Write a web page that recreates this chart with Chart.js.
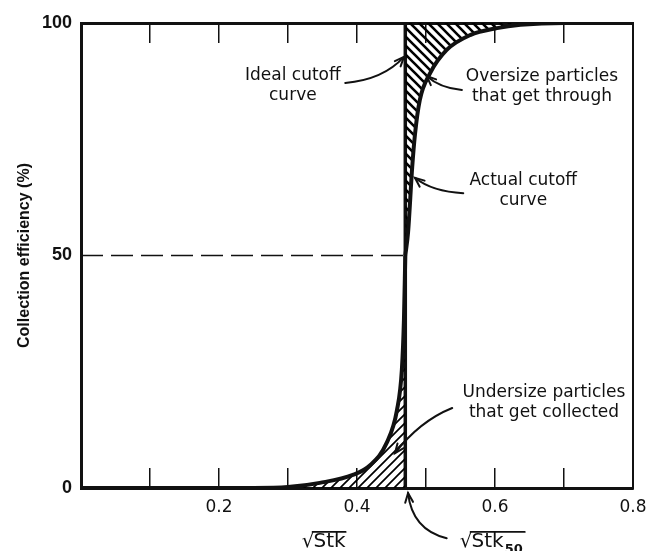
<!DOCTYPE html>
<html>
<head>
<meta charset="utf-8">
<script src="https://cdn.jsdelivr.net/npm/chart.js@4.4.1/dist/chart.umd.min.js"></script>
<style>
  html, body { margin: 0; padding: 0; background: #fff; }
</style>
</head>
<body>
<canvas id="chart" width="651" height="551"></canvas>
<script>
// actual cutoff curve
const actualX = [0.00, 0.25, 0.30, 0.346, 0.394, 0.419, 0.443, 0.458, 0.465, 0.468, 0.470,
                 0.474, 0.480, 0.484, 0.491, 0.506, 0.530, 0.564, 0.603, 0.637, 0.70, 0.80];
const actualY = [0, 0, 0.2, 1.1, 2.8, 4.9, 9.7, 16.8, 25.4, 36, 50,
                 55, 69, 76, 83.4, 89.2, 94.2, 97.4, 98.9, 99.6, 100, 100];

// ideal cutoff (step at sqrt(Stk50))
const cutX = 0.47;
const idealY = [0, 100];
const halfY = 50;

const xRange = [0, 0.8];
const yRange = [0, 100];
const xLabelled = [0.2, 0.4, 0.6, 0.8];

// notes: text lines, anchor (first line centre) in data units
const noteLines = [['Ideal cutoff', 'curve'], ['Oversize particles', 'that get through'],
                   ['Actual cutoff', 'curve'], ['Undersize particles', 'that get collected']];
const noteX = [0.307, 0.668, 0.641, 0.671];
const noteY = [88.8, 88.4, 66.2, 20.6];

// arrows: tail, bend, head in data units
const arrowFrom = [[0.383, 87.1], [0.552, 85.6], [0.554, 63.4], [0.538, 17.2], [0.530, -10.8]];
const arrowVia  = [[0.438, 87.8], [0.520, 86.0], [0.509, 63.7], [0.491, 14.4], [0.480, -9.0]];
const arrowTo   = [[0.468, 92.7], [0.501, 88.6], [0.484, 66.7], [0.455, 7.5], [0.474, -1.1]];

// root labels under the x axis
const rootText = ['Stk', 'Stk'];
const rootSub = ['', '50'];
const rootX = [0.320, 0.549];
const rootY = [-11.4, -11.4];

const FONT = '"DejaVu Sans", sans-serif';
const canvas = document.getElementById('chart');

function hatch(dir, lw) {
    const s = 9;
    const c = document.createElement('canvas');
    c.width = s; c.height = s;
    const g = c.getContext('2d');
    g.strokeStyle = '#000';
    g.lineWidth = lw;
    g.beginPath();
    if (dir === '/') {
        g.moveTo(0, s); g.lineTo(s, 0);
        g.moveTo(-s / 2, s / 2); g.lineTo(s / 2, -s / 2);
        g.moveTo(s / 2, s * 1.5); g.lineTo(s * 1.5, s / 2);
    } else {
        g.moveTo(0, 0); g.lineTo(s, s);
        g.moveTo(-s / 2, s / 2); g.lineTo(s / 2, s * 1.5);
        g.moveTo(s / 2, -s / 2); g.lineTo(s * 1.5, s / 2);
    }
    g.stroke();
    return canvas.getContext('2d').createPattern(c, 'repeat');
}

const pts = actualX.map((x, i) => ({ x, y: actualY[i] }));
const lowerPts = pts.filter(p => p.x <= cutX);
const upperPts = pts.filter(p => p.x >= cutX);

const notesPlugin = {
    id: 'notes',
    afterDraw(chart) {
        const { ctx, scales: { x, y } } = chart;
        const px = v => x.getPixelForValue(v);
        const py = v => y.getPixelForValue(v);
        ctx.save();
        ctx.fillStyle = '#111';
        ctx.strokeStyle = '#111';
        ctx.font = '17px ' + FONT;
        ctx.textAlign = 'center';
        ctx.textBaseline = 'middle';
        noteLines.forEach((lines, i) => {
            lines.forEach((t, j) => ctx.fillText(t, px(noteX[i]), py(noteY[i]) + j * 20));
        });

        // arrows
        ctx.lineWidth = 2;
        ctx.lineCap = 'round';
        arrowFrom.forEach((f, i) => {
            const x0 = px(f[0]), y0 = py(f[1]);
            const x1 = px(arrowVia[i][0]), y1 = py(arrowVia[i][1]);
            const x2 = px(arrowTo[i][0]), y2 = py(arrowTo[i][1]);
            ctx.beginPath();
            ctx.moveTo(x0, y0);
            ctx.quadraticCurveTo(x1, y1, x2, y2);
            ctx.stroke();
            const a = Math.atan2(y2 - y1, x2 - x1);
            ctx.beginPath();
            ctx.moveTo(x2 - 10 * Math.cos(a - 0.4), y2 - 10 * Math.sin(a - 0.4));
            ctx.lineTo(x2, y2);
            ctx.lineTo(x2 - 10 * Math.cos(a + 0.4), y2 - 10 * Math.sin(a + 0.4));
            ctx.stroke();
        });

        // sqrt labels
        ctx.textAlign = 'left';
        ctx.textBaseline = 'alphabetic';
        ctx.lineWidth = 1.8;
        rootText.forEach((t, i) => {
            ctx.font = '20px ' + FONT;
            const x0 = px(rootX[i]);
            const base = py(rootY[i]) + 6;
            const rm = ctx.measureText('\u221A');
            ctx.fillText('\u221A', x0, base);
            const tx = x0 + rm.width - 1;
            ctx.fillText(t, tx, base);
            let end = tx + ctx.measureText(t).width;
            if (rootSub[i]) {
                ctx.font = 'bold 13px ' + FONT;
                ctx.fillText(rootSub[i], end + 1, base + 6);
                end += ctx.measureText(rootSub[i]).width + 3;
            }
            const top = base - rm.actualBoundingBoxAscent + 0.9;
            ctx.beginPath();
            ctx.moveTo(tx - 1, top);
            ctx.lineTo(end, top);
            ctx.stroke();
        });
        ctx.restore();
    }
};

const lineBase = { pointRadius: 0, borderColor: '#111', cubicInterpolationMode: 'monotone' };

new Chart(canvas, {
    type: 'line',
    data: {
        datasets: [
            { ...lineBase, data: lowerPts, borderWidth: 4, fill: 'origin', backgroundColor: hatch('/', 1.7) },
            { ...lineBase, data: upperPts, borderWidth: 4, fill: 'end', backgroundColor: hatch('\\', 2.6) },
            { ...lineBase, data: idealY.map(v => ({ x: cutX, y: v })), borderWidth: 3.5, fill: false },
            { ...lineBase, data: [{ x: xRange[0], y: halfY }, { x: cutX, y: halfY }],
              borderWidth: 1.5, borderDash: [22, 8], fill: false }
        ]
    },
    options: {
        responsive: false,
        animation: false,
        layout: { padding: { top: 23, right: 18, left: 0, bottom: 0 } },
        plugins: { legend: { display: false }, tooltip: { enabled: false } },
        scales: {
            x: {
                type: 'linear', min: xRange[0], max: xRange[1],
                afterFit: s => { s.height = 63; s.paddingLeft = 0; s.paddingRight = 0; },
                border: { color: '#111', width: 3 },
                grid: { drawOnChartArea: false, tickLength: -20, lineWidth: 1.5, color: '#111' },
                ticks: {
                    stepSize: 0.1, autoSkip: false, maxRotation: 0, padding: 29, color: '#111',
                    font: { family: FONT, size: 17 },
                    callback: v => xLabelled.some(l => Math.abs(l - v) < 1e-6) ? v.toFixed(1) : ''
                }
            },
            x2: {
                type: 'linear', position: 'top', min: xRange[0], max: xRange[1],
                afterFit: s => { s.height = 0; s.paddingLeft = 0; s.paddingRight = 0; },
                border: { color: '#111', width: 3 },
                grid: { drawOnChartArea: false, tickLength: -20, lineWidth: 1.5, color: '#111' },
                ticks: { stepSize: 0.1, autoSkip: false, display: false }
            },
            y: {
                min: yRange[0], max: yRange[1],
                afterFit: s => { s.width = 81; s.paddingTop = 0; s.paddingBottom = 0; },
                border: { color: '#111', width: 3 },
                grid: { drawOnChartArea: false, drawTicks: false },
                ticks: {
                    stepSize: 50, padding: 9, color: '#111',
                    font: { family: '"Liberation Sans", Arial, sans-serif', size: 18, weight: 'bold' }
                },
                title: {
                    display: true, text: 'Collection efficiency (%)', color: '#111',
                    padding: { top: 15, bottom: 0 },
                    font: { family: '"Liberation Sans", Arial, sans-serif', size: 16, weight: 'bold' }
                }
            },
            y2: {
                position: 'right', min: yRange[0], max: yRange[1],
                afterFit: s => { s.width = 0; },
                border: { color: '#111', width: 2 },
                grid: { drawOnChartArea: false, drawTicks: false },
                ticks: { display: false }
            }
        }
    },
    plugins: [notesPlugin]
});
</script>
</body>
</html>
